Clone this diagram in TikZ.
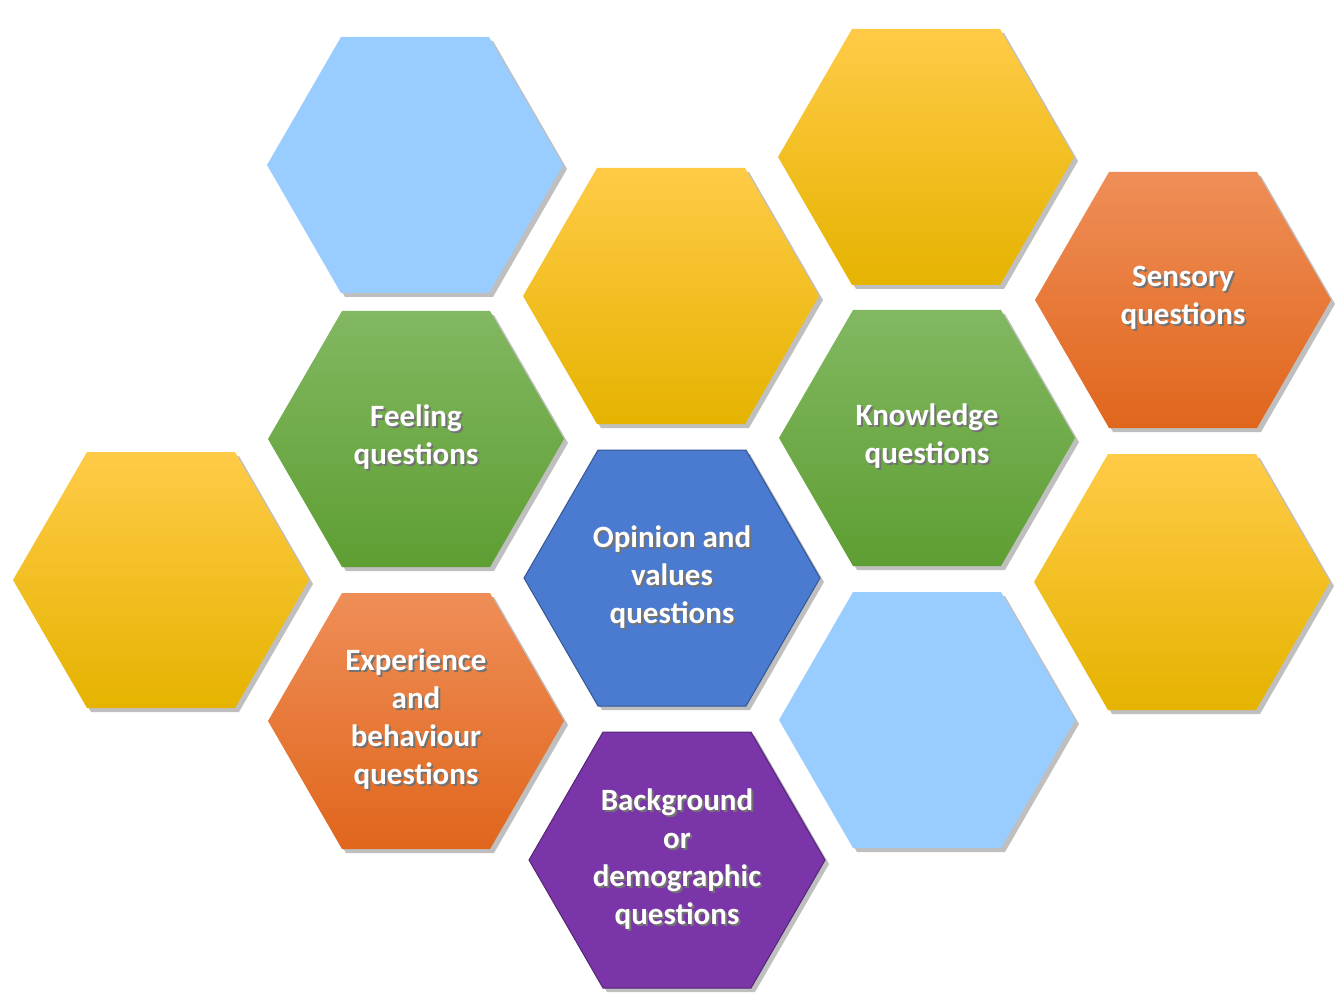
\documentclass[tikz,border=0pt]{standalone}
\usepackage{fontspec}
\setmainfont{Carlito}
\definecolor{yt}{HTML}{FFCB47}\definecolor{ym}{HTML}{FFC000}\definecolor{yb}{HTML}{E5B300}
\definecolor{gt}{HTML}{82B861}\definecolor{gm}{HTML}{6DAC40}\definecolor{gb}{HTML}{5E9E33}
\definecolor{ot}{HTML}{EF8E58}\definecolor{om}{HTML}{F27B2C}\definecolor{ob}{HTML}{E0661C}
\definecolor{lb}{HTML}{99CCFF}\definecolor{bl}{HTML}{4A7BD0}\definecolor{pu}{HTML}{7A35A8}
\tikzset{
 yel/.style={top color=yt,middle color=ym,bottom color=yb},
 grn/.style={top color=gt,middle color=gm,bottom color=gb},
 org/.style={top color=ot,middle color=om,bottom color=ob},
 lbl/.style={fill=lb},
 blu/.style={fill=bl,draw=bl!70!black,line width=1pt},
 pur/.style={fill=pu,draw=pu!70!black,line width=1pt},
 txt/.style={text=white,font=\bfseries\fontsize{31}{38}\selectfont,align=center},
 shd/.style={text=black!55,font=\bfseries\fontsize{31}{38}\selectfont,align=center}
}
\newcommand\hexa[4]{%
 \fill[black!25] (#1+4,#2+4) ++(-148,0) -- ++(74,-128) -- ++(148,0) -- ++(74,128) -- ++(-74,128) -- ++(-148,0) -- cycle;
 \path[#3] (#1,#2) ++(-148,0) -- ++(74,-128) -- ++(148,0) -- ++(74,128) -- ++(-74,128) -- ++(-148,0) -- cycle;
 \node[inner sep=0] (#4) at (#1,#2) {};}
\newcommand\htext[3]{%
 \node[shd] at (#1+2,#2+2) {#3};
 \node[txt] at (#1,#2) {#3};}
\begin{document}
\begin{tikzpicture}[x=1pt,y=-1pt]
\useasboundingbox[fill=white] (0,0) rectangle (1344,1008);
\hexa{415}{165}{lbl}{h1}
\hexa{671}{296}{yel}{h2}
\hexa{926}{157}{yel}{h3}
\hexa{1183}{300}{org}{h4}
\hexa{416}{439}{grn}{h5}
\hexa{927}{438}{grn}{h6}
\hexa{161}{580}{yel}{h7}
\hexa{672}{578}{blu}{h8}
\hexa{1182}{582}{yel}{h9}
\hexa{416}{721}{org}{h10}
\hexa{927}{720}{lbl}{h11}
\hexa{677}{860}{pur}{h12}
\htext{1183}{298}{Sensory\\questions}
\htext{416}{437}{Feeling\\questions}
\htext{927}{436}{Knowledge\\questions}
\htext{672}{577}{Opinion and\\values\\questions}
\htext{416}{719}{Experience\\and\\behaviour\\questions}
\htext{677}{859}{Background\\or\\demographic\\questions}
\end{tikzpicture}
\end{document}
